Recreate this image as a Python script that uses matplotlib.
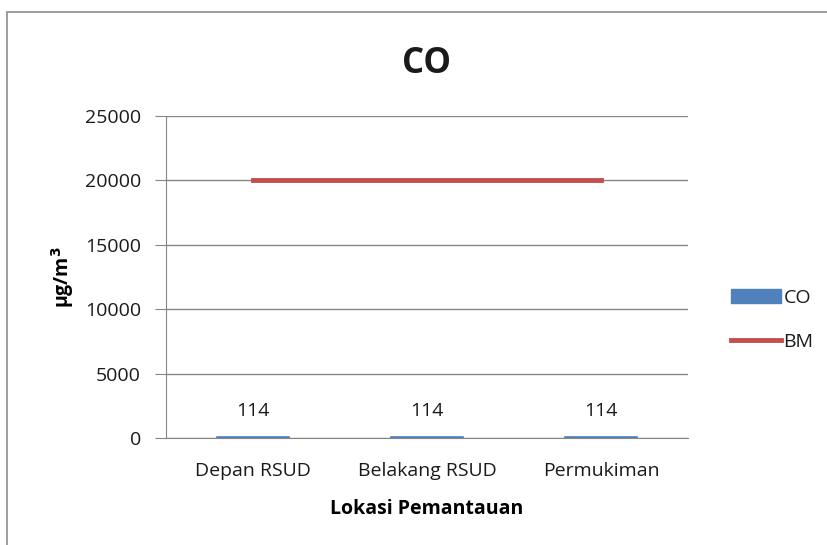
import matplotlib
matplotlib.use("Agg")
import matplotlib.pyplot as plt
from matplotlib.patches import Rectangle
from matplotlib.lines import Line2D

categories = ["Depan RSUD", "Belakang RSUD", "Permukiman"]
co_values = [114, 114, 114]
bm_values = [20000, 20000, 20000]
y_ticks = [0, 5000, 10000, 15000, 20000, 25000]

plt.rcParams['font.family'] = ['Open Sans', 'DejaVu Sans']
plt.rcParams['text.color'] = "#1a1a1a"
plt.rcParams['xtick.labelcolor'] = "#1a1a1a"
plt.rcParams['ytick.labelcolor'] = "#1a1a1a"

W, H = 827, 545
fig = plt.figure(figsize=(W / 100, H / 100), dpi=100)

# outer chart border
fig.patches.append(Rectangle((7 / W, -0.01), 1.0, 1 - 12 / H + 0.01,
                             transform=fig.transFigure, fill=False,
                             edgecolor="#8c8c8c", linewidth=1.2))

ax = fig.add_axes([166 / W, 1 - 438 / H, (688 - 166) / W, (438 - 116) / H])
x = list(range(len(categories)))
ax.bar(x, co_values, width=0.41, color="#4f81bd", edgecolor="#4f81bd",
       linewidth=1.2, label="CO", zorder=3)
ax.plot(x, bm_values, color="#c0504d", linewidth=3.5, label="BM", zorder=4)

for xi, v in zip(x, co_values):
    ax.text(xi, v + 1300, f"{v}", ha="center", va="bottom", fontsize=14)

ax.set_xlim(-0.5, 2.5)
ax.set_ylim(0, 25000)
ax.set_yticks(y_ticks)
ax.set_yticklabels([str(t) for t in y_ticks], fontsize=14)
ax.set_xticks(x)
ax.set_xticklabels(categories, fontsize=14)
ax.tick_params(axis="y", length=8, color="#868686", pad=10)
ax.tick_params(axis="x", length=0, pad=17)
ax.grid(axis="y", color="#868686", linewidth=1.0, zorder=0)
for s in ["top", "right"]:
    ax.spines[s].set_visible(False)
ax.spines["left"].set_color("#868686")
ax.spines["bottom"].set_color("#868686")

ax.set_title("CO", fontsize=25, fontweight="bold", pad=31)
ax.set_xlabel("Lokasi Pemantauan", fontsize=14, fontweight="bold", labelpad=14)
ax.set_ylabel("μg/m$^\\mathbf{3}$", fontsize=14, fontweight="bold", labelpad=6)

handles = [Rectangle((0, 0), 1, 1, color="#4f81bd"),
           Line2D([0], [0], color="#c0504d", linewidth=3.5)]
fig.legend(handles, ["CO", "BM"], loc="center left",
           bbox_to_anchor=(713 / W, 1 - 320 / H), frameon=False,
           fontsize=14, handlelength=2.6, handleheight=0.75,
           handletextpad=0.12, labelspacing=1.35)

fig.savefig("out.png", dpi=100)
